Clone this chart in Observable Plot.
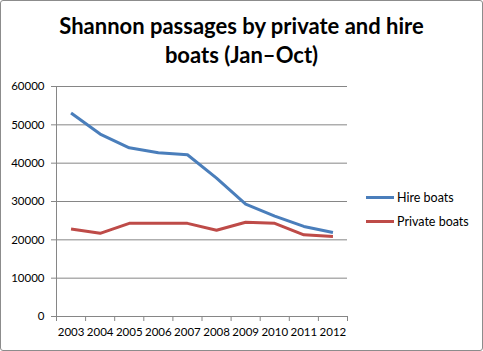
<!DOCTYPE html>
<html>
<head>
<meta charset="utf-8">
<script src="https://cdn.jsdelivr.net/npm/d3@7"></script>
<script src="https://cdn.jsdelivr.net/npm/@observablehq/plot@0.6"></script>
<style>
  html, body { margin: 0; padding: 0; background: #fff; }
  #wrap { position: relative; width: 483px; height: 351px; font-family: Lato, "Open Sans", sans-serif; }
  #border { position: absolute; left: 0; top: 0; width: 481px; height: 349px; border: 1px solid #8c8c8c; border-radius: 3px; pointer-events: none; }
  #title { position: absolute; left: 0; width: 483px; top: 11px; text-align: center; font-weight: bold; font-size: 22px; line-height: 29px; color: #000; }
  .leg { position: absolute; left: 366px; font-size: 12.5px; color: #000; display: flex; align-items: center; }
  .leg span.sw { display: inline-block; width: 28px; height: 3px; margin-right: 3px; }
  svg { position: absolute; left: 0; top: 0; }
</style>
</head>
<body>
<div id="wrap">
  <div id="title">Shannon passages by private and hire<br>boats (Jan–Oct)</div>
  <div id="chart"></div>
  <div id="legend"></div>
  <div id="border"></div>
</div>
<script>
const years = [2003, 2004, 2005, 2006, 2007, 2008, 2009, 2010, 2011, 2012];
const hireBoats = [53100, 47600, 44000, 42700, 42200, 36100, 29300, 26200, 23500, 21900];
const privateBoats = [22800, 21700, 24300, 24300, 24300, 22500, 24600, 24300, 21300, 20900];
const yTicks = [0, 10000, 20000, 30000, 40000, 50000, 60000];
const seriesNames = ["Hire boats", "Private boats"];
const seriesColors = ["#4a7ebb", "#be4b48"];

const rows = [];
years.forEach((y, i) => {
  rows.push({year: y, value: hireBoats[i], series: seriesNames[0]});
  rows.push({year: y, value: privateBoats[i], series: seriesNames[1]});
});
const boundaries = [years[0] - 0.5, ...years.map(y => y + 0.5)];

const chart = Plot.plot({
  width: 483,
  height: 351,
  marginLeft: 56,
  marginRight: 136,
  marginTop: 86,
  marginBottom: 35,
  style: {fontFamily: "Lato, 'Open Sans', sans-serif", fontSize: "11.5px", background: "transparent", color: "#000"},
  x: {type: "linear", domain: [years[0] - 0.5, years[years.length - 1] + 0.5]},
  y: {domain: [0, 60000]},
  color: {domain: seriesNames, range: seriesColors},
  marks: [
    Plot.gridY(yTicks, {stroke: "#868686", strokeOpacity: 1, strokeWidth: 1}),
    Plot.ruleX([boundaries[0]], {stroke: "#868686", strokeWidth: 1}),
    Plot.axisY(yTicks, {tickSize: 5, tickPadding: 7, tickFormat: d => String(d), stroke: "#868686", fill: "#000", fontSize: 11.5, label: null}),
    Plot.axisX(boundaries, {tickSize: 5, tickFormat: () => "", stroke: "#868686", label: null}),
    Plot.axisX(years, {tickSize: 0, tickPadding: 11, tickFormat: d => String(d), fill: "#000", fontSize: 11.5, label: null}),
    Plot.lineY(rows, {x: "year", y: "value", z: "series", stroke: "series", strokeWidth: 3, strokeLinejoin: "round", strokeLinecap: "butt"})
  ]
});
document.getElementById("chart").appendChild(chart);

const legend = document.getElementById("legend");
seriesNames.forEach((name, i) => {
  const d = document.createElement("div");
  d.className = "leg";
  d.style.top = (190 + i * 24) + "px";
  d.innerHTML = `<span class="sw" style="background:${seriesColors[i]}"></span>${name}`;
  legend.appendChild(d);
});
</script>
</body>
</html>
